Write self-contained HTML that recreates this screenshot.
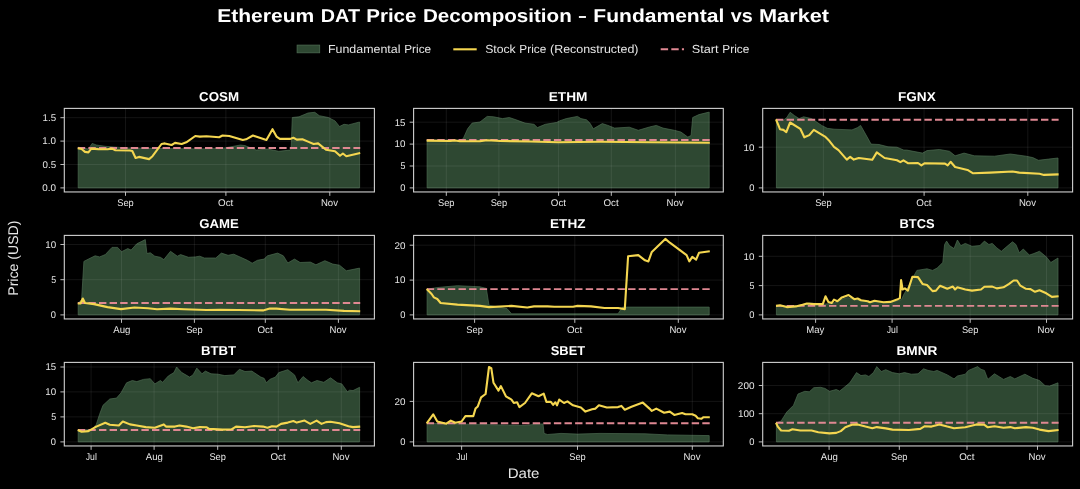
<!DOCTYPE html>
<html><head><meta charset="utf-8"><title>Ethereum DAT Price Decomposition</title>
<style>
html,body{margin:0;padding:0;background:#000;}
body{width:1080px;height:489px;overflow:hidden;}
svg{display:block;will-change:transform;filter:blur(0.4px);}
text{font-family:"Liberation Sans",sans-serif;fill:#e6e6e6;text-rendering:geometricPrecision;}
.b{font-weight:bold;}
text.w{fill:#fff;}
</style></head><body>
<svg width="1080" height="489" viewBox="0 0 1080 489">
<rect x="0" y="0" width="1080" height="489" fill="#000"/>

<text class="b w" x="217.18" y="21.70" font-size="18.67" textLength="97.10" lengthAdjust="spacingAndGlyphs">Ethereum</text>
<text class="b w" x="320.83" y="21.70" font-size="18.67" textLength="39.16" lengthAdjust="spacingAndGlyphs">DAT</text>
<text class="b w" x="366.24" y="21.70" font-size="18.67" textLength="50.13" lengthAdjust="spacingAndGlyphs">Price</text>
<text class="b w" x="422.92" y="21.70" font-size="18.67" textLength="148.88" lengthAdjust="spacingAndGlyphs">Decomposition</text>
<text class="b w" x="578.59" y="21.70" font-size="18.67" textLength="7.89" lengthAdjust="spacingAndGlyphs">–</text>
<text class="b w" x="593.34" y="21.70" font-size="18.67" textLength="130.96" lengthAdjust="spacingAndGlyphs">Fundamental</text>
<text class="b w" x="730.71" y="21.70" font-size="18.67" textLength="21.95" lengthAdjust="spacingAndGlyphs">vs</text>
<text class="b w" x="758.99" y="21.70" font-size="18.67" textLength="70.08" lengthAdjust="spacingAndGlyphs">Market</text>
<rect x="297.1" y="45.1" width="22.6" height="7.7" fill="#2e4832" stroke="#4c6a50" stroke-width="0.8"/>
<text x="327.98" y="53.20" font-size="11.67" textLength="72.43" lengthAdjust="spacingAndGlyphs">Fundamental</text>
<text x="404.23" y="53.20" font-size="11.67" textLength="26.93" lengthAdjust="spacingAndGlyphs">Price</text>
<line x1="453.3" y1="49.3" x2="476.7" y2="49.3" stroke="#f4d650" stroke-width="2.1"/>
<text x="485.15" y="53.20" font-size="11.67" textLength="30.53" lengthAdjust="spacingAndGlyphs">Stock</text>
<text x="519.37" y="53.20" font-size="11.67" textLength="26.93" lengthAdjust="spacingAndGlyphs">Price</text>
<text x="550.06" y="53.20" font-size="11.67" textLength="88.42" lengthAdjust="spacingAndGlyphs">(Reconstructed)</text>
<line x1="660.7" y1="49.3" x2="684" y2="49.3" stroke="#df8892" stroke-width="1.9" stroke-dasharray="7.4,3.2"/>
<text x="691.73" y="53.20" font-size="11.67" textLength="26.82" lengthAdjust="spacingAndGlyphs">Start</text>
<text x="722.36" y="53.20" font-size="11.67" textLength="26.93" lengthAdjust="spacingAndGlyphs">Price</text>
<text x="507.68" y="478.20" font-size="14.00" textLength="31.78" lengthAdjust="spacingAndGlyphs">Date</text>
<text transform="translate(17.60,295.76) rotate(-90)" font-size="14.00" textLength="75.24" lengthAdjust="spacingAndGlyphs">Price (USD)</text>
<g>
<polygon points="78.2,187.9 78.2,147.2 88.4,149.0 92.2,143.4 96.3,145.0 105.3,146.3 125.5,147.9 152.5,148.3 200.0,149.0 224.8,147.9 240.5,145.0 245.0,145.6 256.3,150.1 267.5,149.0 278.8,151.3 290.0,150.1 291.1,149.0 292.3,117.5 299.0,116.8 308.0,113.0 314.8,112.3 319.3,115.7 328.3,117.5 335.0,120.9 339.5,126.5 344.0,124.3 348.5,124.9 359.6,122.0 359.6,187.9" fill="#2e4832" stroke="#4c6a50" stroke-width="0.7" stroke-linejoin="round"/>
<line x1="64.3" y1="187.9" x2="374.4" y2="187.9" stroke="rgba(255,255,255,0.10)" stroke-width="0.8"/>
<line x1="64.3" y1="164.5" x2="374.4" y2="164.5" stroke="rgba(255,255,255,0.10)" stroke-width="0.8"/>
<line x1="64.3" y1="141.1" x2="374.4" y2="141.1" stroke="rgba(255,255,255,0.10)" stroke-width="0.8"/>
<line x1="64.3" y1="117.7" x2="374.4" y2="117.7" stroke="rgba(255,255,255,0.10)" stroke-width="0.8"/>
<line x1="125.5" y1="108.4" x2="125.5" y2="191.95" stroke="rgba(255,255,255,0.10)" stroke-width="0.8"/>
<line x1="225.9" y1="108.4" x2="225.9" y2="191.95" stroke="rgba(255,255,255,0.10)" stroke-width="0.8"/>
<line x1="329.8" y1="108.4" x2="329.8" y2="191.95" stroke="rgba(255,255,255,0.10)" stroke-width="0.8"/>
<line x1="77.8" y1="148.0" x2="360.2" y2="148.0" stroke="#df8892" stroke-width="1.9" stroke-dasharray="7.4,3.2"/>
<polyline points="77.8,148.3 81.6,149.0 85.0,151.9 88.4,152.4 91.3,148.6 98.5,149.1 107.5,149.2 112.0,148.6 115.4,150.2 130.0,150.5 132.3,151.0 135.6,158.0 139.0,156.9 149.1,159.1 152.5,156.2 161.5,144.0 164.9,143.4 171.6,145.0 175.0,142.9 181.7,144.0 186.3,142.3 195.3,136.0 199.8,136.6 206.5,136.2 219.1,137.3 222.5,135.5 229.3,136.0 242.8,140.0 246.1,139.3 252.9,135.5 266.4,140.0 272.5,129.2 276.5,136.6 279.9,138.9 290.0,138.9 293.4,137.8 296.8,139.6 302.4,139.3 308.0,141.6 313.6,144.0 318.1,143.4 326.0,149.7 335.0,151.3 340.0,155.8 342.9,153.5 346.3,156.2 360.2,153.0" fill="none" stroke="#f4d650" stroke-width="2.1" stroke-linejoin="round" stroke-linecap="butt"/>
<rect x="64.3" y="108.4" width="310.10" height="83.55" fill="none" stroke="#d0d0d0" stroke-width="1.1"/>
<line x1="60.4" y1="187.9" x2="64.3" y2="187.9" stroke="#d0d0d0" stroke-width="0.9"/>
<text x="42.35" y="191.20" font-size="9.78" textLength="13.72" lengthAdjust="spacingAndGlyphs">0.0</text>
<line x1="60.4" y1="164.5" x2="64.3" y2="164.5" stroke="#d0d0d0" stroke-width="0.9"/>
<text x="42.53" y="167.80" font-size="9.78" textLength="13.56" lengthAdjust="spacingAndGlyphs">0.5</text>
<line x1="60.4" y1="141.1" x2="64.3" y2="141.1" stroke="#d0d0d0" stroke-width="0.9"/>
<text x="42.38" y="144.40" font-size="9.78" textLength="13.69" lengthAdjust="spacingAndGlyphs">1.0</text>
<line x1="60.4" y1="117.7" x2="64.3" y2="117.7" stroke="#d0d0d0" stroke-width="0.9"/>
<text x="42.57" y="121.00" font-size="9.78" textLength="13.52" lengthAdjust="spacingAndGlyphs">1.5</text>
<line x1="125.5" y1="191.95" x2="125.5" y2="195.85" stroke="#d0d0d0" stroke-width="0.9"/>
<text x="117.24" y="206.35" font-size="9.78" textLength="16.50" lengthAdjust="spacingAndGlyphs">Sep</text>
<line x1="225.9" y1="191.95" x2="225.9" y2="195.85" stroke="#d0d0d0" stroke-width="0.9"/>
<text x="218.09" y="206.35" font-size="9.78" textLength="15.24" lengthAdjust="spacingAndGlyphs">Oct</text>
<line x1="329.8" y1="191.95" x2="329.8" y2="195.85" stroke="#d0d0d0" stroke-width="0.9"/>
<text x="320.90" y="206.35" font-size="9.78" textLength="17.05" lengthAdjust="spacingAndGlyphs">Nov</text>
<text class="b w" x="199.12" y="101.00" font-size="12.83" textLength="39.98" lengthAdjust="spacingAndGlyphs">COSM</text>
</g>
<g>
<polygon points="427.1,187.9 427.1,140.0 460.0,140.0 463.1,138.9 467.6,128.8 472.1,123.1 480.0,122.0 487.2,116.4 493.5,116.8 502.5,118.6 509.3,117.5 516.0,119.8 525.0,123.1 534.0,124.3 537.4,127.6 545.3,124.3 556.5,122.5 559.5,120.9 566.3,118.6 577.5,116.4 580.9,118.6 586.5,119.8 589.9,123.1 593.3,128.8 602.3,123.6 607.9,125.4 614.6,128.1 629.3,127.2 638.3,130.3 649.5,127.0 656.3,125.4 663.0,128.1 674.3,130.3 681.0,132.1 687.8,137.1 691.1,135.5 692.7,117.5 699.0,114.6 709.2,112.1 709.2,187.9" fill="#2e4832" stroke="#4c6a50" stroke-width="0.7" stroke-linejoin="round"/>
<line x1="413.6" y1="187.9" x2="723.3" y2="187.9" stroke="rgba(255,255,255,0.10)" stroke-width="0.8"/>
<line x1="413.6" y1="166" x2="723.3" y2="166" stroke="rgba(255,255,255,0.10)" stroke-width="0.8"/>
<line x1="413.6" y1="144.1" x2="723.3" y2="144.1" stroke="rgba(255,255,255,0.10)" stroke-width="0.8"/>
<line x1="413.6" y1="122.2" x2="723.3" y2="122.2" stroke="rgba(255,255,255,0.10)" stroke-width="0.8"/>
<line x1="446.3" y1="108.4" x2="446.3" y2="191.95" stroke="rgba(255,255,255,0.10)" stroke-width="0.8"/>
<line x1="498.9" y1="108.4" x2="498.9" y2="191.95" stroke="rgba(255,255,255,0.10)" stroke-width="0.8"/>
<line x1="558.6" y1="108.4" x2="558.6" y2="191.95" stroke="rgba(255,255,255,0.10)" stroke-width="0.8"/>
<line x1="611.3" y1="108.4" x2="611.3" y2="191.95" stroke="rgba(255,255,255,0.10)" stroke-width="0.8"/>
<line x1="675.4" y1="108.4" x2="675.4" y2="191.95" stroke="rgba(255,255,255,0.10)" stroke-width="0.8"/>
<line x1="426.7" y1="140.0" x2="709.8" y2="140.0" stroke="#df8892" stroke-width="1.9" stroke-dasharray="7.4,3.2"/>
<polyline points="426.7,140.6 450.0,141.0 455.0,140.5 460.0,141.3 480.0,141.2 487.0,140.3 500.0,141.0 530.0,141.5 558.0,142.2 600.0,141.8 650.0,142.2 709.8,142.7" fill="none" stroke="#f4d650" stroke-width="2.1" stroke-linejoin="round" stroke-linecap="butt"/>
<rect x="413.6" y="108.4" width="309.70" height="83.55" fill="none" stroke="#d0d0d0" stroke-width="1.1"/>
<line x1="409.70000000000005" y1="187.9" x2="413.6" y2="187.9" stroke="#d0d0d0" stroke-width="0.9"/>
<text x="400.16" y="191.20" font-size="9.78" textLength="5.20" lengthAdjust="spacingAndGlyphs">0</text>
<line x1="409.70000000000005" y1="166" x2="413.6" y2="166" stroke="#d0d0d0" stroke-width="0.9"/>
<text x="400.45" y="169.30" font-size="9.78" textLength="4.92" lengthAdjust="spacingAndGlyphs">5</text>
<line x1="409.70000000000005" y1="144.1" x2="413.6" y2="144.1" stroke="#d0d0d0" stroke-width="0.9"/>
<text x="394.51" y="147.40" font-size="9.78" textLength="10.88" lengthAdjust="spacingAndGlyphs">10</text>
<line x1="409.70000000000005" y1="122.2" x2="413.6" y2="122.2" stroke="#d0d0d0" stroke-width="0.9"/>
<text x="394.70" y="125.50" font-size="9.78" textLength="10.71" lengthAdjust="spacingAndGlyphs">15</text>
<line x1="446.3" y1="191.95" x2="446.3" y2="195.85" stroke="#d0d0d0" stroke-width="0.9"/>
<text x="438.04" y="206.35" font-size="9.78" textLength="16.50" lengthAdjust="spacingAndGlyphs">Sep</text>
<line x1="498.9" y1="191.95" x2="498.9" y2="195.85" stroke="#d0d0d0" stroke-width="0.9"/>
<text x="490.64" y="206.35" font-size="9.78" textLength="16.50" lengthAdjust="spacingAndGlyphs">Sep</text>
<line x1="558.6" y1="191.95" x2="558.6" y2="195.85" stroke="#d0d0d0" stroke-width="0.9"/>
<text x="550.79" y="206.35" font-size="9.78" textLength="15.24" lengthAdjust="spacingAndGlyphs">Oct</text>
<line x1="611.3" y1="191.95" x2="611.3" y2="195.85" stroke="#d0d0d0" stroke-width="0.9"/>
<text x="603.49" y="206.35" font-size="9.78" textLength="15.24" lengthAdjust="spacingAndGlyphs">Oct</text>
<line x1="675.4" y1="191.95" x2="675.4" y2="195.85" stroke="#d0d0d0" stroke-width="0.9"/>
<text x="666.50" y="206.35" font-size="9.78" textLength="17.05" lengthAdjust="spacingAndGlyphs">Nov</text>
<text class="b w" x="548.71" y="101.00" font-size="12.83" textLength="38.66" lengthAdjust="spacingAndGlyphs">ETHM</text>
</g>
<g>
<polygon points="776.4,187.9 776.4,119.3 783.4,120.2 786.8,117.5 790.1,112.3 794.6,115.7 799.1,118.6 803.6,116.8 811.5,118.6 816.0,121.6 821.6,125.4 827.3,128.3 834.0,129.2 852.0,129.9 857.6,127.6 860.6,125.4 864.4,132.1 871.1,144.1 879.0,144.5 888.0,146.8 897.0,147.2 903.8,150.1 906.8,150.1 922.5,153.1 927.0,150.6 939.4,149.5 949.5,151.3 955.1,155.8 964.1,153.1 974.3,155.8 994.5,156.2 1010.3,154.0 1026.0,156.2 1032.8,157.6 1038.4,160.3 1048.5,159.1 1058.0,158.0 1058.0,187.9" fill="#2e4832" stroke="#4c6a50" stroke-width="0.7" stroke-linejoin="round"/>
<line x1="762.7" y1="187.9" x2="1072.6" y2="187.9" stroke="rgba(255,255,255,0.10)" stroke-width="0.8"/>
<line x1="762.7" y1="147.2" x2="1072.6" y2="147.2" stroke="rgba(255,255,255,0.10)" stroke-width="0.8"/>
<line x1="823.4" y1="108.4" x2="823.4" y2="191.95" stroke="rgba(255,255,255,0.10)" stroke-width="0.8"/>
<line x1="924.1" y1="108.4" x2="924.1" y2="191.95" stroke="rgba(255,255,255,0.10)" stroke-width="0.8"/>
<line x1="1027.8" y1="108.4" x2="1027.8" y2="191.95" stroke="rgba(255,255,255,0.10)" stroke-width="0.8"/>
<line x1="776" y1="119.75" x2="1058.6" y2="119.75" stroke="#df8892" stroke-width="1.9" stroke-dasharray="7.4,3.2"/>
<polyline points="776.0,119.3 780.0,129.2 783.4,129.9 786.3,132.1 790.1,122.5 800.3,128.8 804.3,137.3 809.3,135.1 813.8,129.9 825.0,136.6 829.5,141.1 834.0,146.8 838.5,150.1 846.8,159.6 850.2,156.9 853.8,159.6 858.8,158.0 872.3,159.8 876.8,152.4 884.6,158.0 897.0,160.3 900.4,162.1 903.4,160.3 907.9,163.2 918.0,163.0 921.4,165.4 924.8,163.2 945.0,163.6 947.7,165.4 950.6,161.8 955.1,167.0 967.5,169.9 973.1,173.3 990.0,172.6 1012.5,171.5 1019.3,172.6 1039.5,173.8 1044.0,174.9 1058.6,174.4" fill="none" stroke="#f4d650" stroke-width="2.1" stroke-linejoin="round" stroke-linecap="butt"/>
<rect x="762.7" y="108.4" width="309.90" height="83.55" fill="none" stroke="#d0d0d0" stroke-width="1.1"/>
<line x1="758.8000000000001" y1="187.9" x2="762.7" y2="187.9" stroke="#d0d0d0" stroke-width="0.9"/>
<text x="749.26" y="191.20" font-size="9.78" textLength="5.20" lengthAdjust="spacingAndGlyphs">0</text>
<line x1="758.8000000000001" y1="147.2" x2="762.7" y2="147.2" stroke="#d0d0d0" stroke-width="0.9"/>
<text x="743.61" y="150.50" font-size="9.78" textLength="10.88" lengthAdjust="spacingAndGlyphs">10</text>
<line x1="823.4" y1="191.95" x2="823.4" y2="195.85" stroke="#d0d0d0" stroke-width="0.9"/>
<text x="815.14" y="206.35" font-size="9.78" textLength="16.50" lengthAdjust="spacingAndGlyphs">Sep</text>
<line x1="924.1" y1="191.95" x2="924.1" y2="195.85" stroke="#d0d0d0" stroke-width="0.9"/>
<text x="916.29" y="206.35" font-size="9.78" textLength="15.24" lengthAdjust="spacingAndGlyphs">Oct</text>
<line x1="1027.8" y1="191.95" x2="1027.8" y2="195.85" stroke="#d0d0d0" stroke-width="0.9"/>
<text x="1018.90" y="206.35" font-size="9.78" textLength="17.05" lengthAdjust="spacingAndGlyphs">Nov</text>
<text class="b w" x="898.00" y="101.00" font-size="12.83" textLength="37.72" lengthAdjust="spacingAndGlyphs">FGNX</text>
</g>
<g>
<polygon points="78.2,314.9 78.2,303.0 81.6,299.6 83.9,261.4 88.4,259.1 95.1,255.8 99.6,256.9 105.3,254.6 112.0,247.4 117.6,247.4 121.5,251.7 127.8,248.6 131.1,250.1 136.8,243.8 145.3,239.6 146.9,253.5 150.3,252.8 154.8,256.2 160.4,257.3 163.8,259.6 170.5,251.3 177.3,256.2 180.6,254.6 188.5,257.3 195.3,256.9 199.8,256.2 204.3,258.0 215.8,258.0 221.4,253.1 228.1,255.3 233.8,254.2 247.3,260.3 252.2,263.2 257.4,260.3 264.1,259.1 267.5,255.8 277.6,253.1 283.3,255.8 287.8,263.0 294.5,259.1 300.1,262.5 310.3,262.1 315.9,264.8 324.9,260.7 332.8,264.1 339.5,265.2 346.3,270.8 359.6,268.1 359.6,314.9" fill="#2e4832" stroke="#4c6a50" stroke-width="0.7" stroke-linejoin="round"/>
<line x1="64.3" y1="314.9" x2="374.4" y2="314.9" stroke="rgba(255,255,255,0.10)" stroke-width="0.8"/>
<line x1="64.3" y1="279.7" x2="374.4" y2="279.7" stroke="rgba(255,255,255,0.10)" stroke-width="0.8"/>
<line x1="64.3" y1="244.5" x2="374.4" y2="244.5" stroke="rgba(255,255,255,0.10)" stroke-width="0.8"/>
<line x1="121.5" y1="235.4" x2="121.5" y2="318.95" stroke="rgba(255,255,255,0.10)" stroke-width="0.8"/>
<line x1="194.4" y1="235.4" x2="194.4" y2="318.95" stroke="rgba(255,255,255,0.10)" stroke-width="0.8"/>
<line x1="265.3" y1="235.4" x2="265.3" y2="318.95" stroke="rgba(255,255,255,0.10)" stroke-width="0.8"/>
<line x1="338.4" y1="235.4" x2="338.4" y2="318.95" stroke="rgba(255,255,255,0.10)" stroke-width="0.8"/>
<line x1="77.8" y1="303.0" x2="360.2" y2="303.0" stroke="#df8892" stroke-width="1.9" stroke-dasharray="7.4,3.2"/>
<polyline points="77.8,303.5 80.5,303.5 82.8,298.5 85.0,303.0 94.0,304.1 107.5,307.1 121.0,309.1 134.5,307.5 148.0,308.2 157.0,309.3 170.5,308.6 184.0,309.3 206.5,310.0 220.0,309.8 263.0,310.4 269.8,308.6 276.5,308.6 290.0,309.8 326.0,309.8 344.0,310.9 360.2,311.3" fill="none" stroke="#f4d650" stroke-width="2.1" stroke-linejoin="round" stroke-linecap="butt"/>
<rect x="64.3" y="235.4" width="310.10" height="83.55" fill="none" stroke="#d0d0d0" stroke-width="1.1"/>
<line x1="60.4" y1="314.9" x2="64.3" y2="314.9" stroke="#d0d0d0" stroke-width="0.9"/>
<text x="50.86" y="318.20" font-size="9.78" textLength="5.20" lengthAdjust="spacingAndGlyphs">0</text>
<line x1="60.4" y1="279.7" x2="64.3" y2="279.7" stroke="#d0d0d0" stroke-width="0.9"/>
<text x="51.15" y="283.00" font-size="9.78" textLength="4.92" lengthAdjust="spacingAndGlyphs">5</text>
<line x1="60.4" y1="244.5" x2="64.3" y2="244.5" stroke="#d0d0d0" stroke-width="0.9"/>
<text x="45.21" y="247.80" font-size="9.78" textLength="10.88" lengthAdjust="spacingAndGlyphs">10</text>
<line x1="121.5" y1="318.95" x2="121.5" y2="322.84999999999997" stroke="#d0d0d0" stroke-width="0.9"/>
<text x="113.23" y="333.35" font-size="9.78" textLength="17.13" lengthAdjust="spacingAndGlyphs">Aug</text>
<line x1="194.4" y1="318.95" x2="194.4" y2="322.84999999999997" stroke="#d0d0d0" stroke-width="0.9"/>
<text x="186.14" y="333.35" font-size="9.78" textLength="16.50" lengthAdjust="spacingAndGlyphs">Sep</text>
<line x1="265.3" y1="318.95" x2="265.3" y2="322.84999999999997" stroke="#d0d0d0" stroke-width="0.9"/>
<text x="257.49" y="333.35" font-size="9.78" textLength="15.24" lengthAdjust="spacingAndGlyphs">Oct</text>
<line x1="338.4" y1="318.95" x2="338.4" y2="322.84999999999997" stroke="#d0d0d0" stroke-width="0.9"/>
<text x="329.50" y="333.35" font-size="9.78" textLength="17.05" lengthAdjust="spacingAndGlyphs">Nov</text>
<text class="b w" x="199.18" y="228.00" font-size="12.83" textLength="39.55" lengthAdjust="spacingAndGlyphs">GAME</text>
</g>
<g>
<polygon points="427.1,314.9 427.1,289.1 439.5,287.3 457.5,285.7 480.0,286.8 486.3,288.4 489.0,305.3 507.0,308.6 511.5,313.8 618.0,313.8 622.5,307.1 709.2,307.1 709.2,314.9" fill="#2e4832" stroke="#4c6a50" stroke-width="0.7" stroke-linejoin="round"/>
<line x1="413.6" y1="314.9" x2="723.3" y2="314.9" stroke="rgba(255,255,255,0.10)" stroke-width="0.8"/>
<line x1="413.6" y1="280.1" x2="723.3" y2="280.1" stroke="rgba(255,255,255,0.10)" stroke-width="0.8"/>
<line x1="413.6" y1="245.2" x2="723.3" y2="245.2" stroke="rgba(255,255,255,0.10)" stroke-width="0.8"/>
<line x1="474.6" y1="235.4" x2="474.6" y2="318.95" stroke="rgba(255,255,255,0.10)" stroke-width="0.8"/>
<line x1="574.8" y1="235.4" x2="574.8" y2="318.95" stroke="rgba(255,255,255,0.10)" stroke-width="0.8"/>
<line x1="678.3" y1="235.4" x2="678.3" y2="318.95" stroke="rgba(255,255,255,0.10)" stroke-width="0.8"/>
<line x1="426.7" y1="289.1" x2="709.8" y2="289.1" stroke="#df8892" stroke-width="1.9" stroke-dasharray="7.4,3.2"/>
<polyline points="426.7,289.1 431.6,294.0 433.9,297.4 437.3,299.0 440.6,303.0 457.5,304.6 480.0,305.9 489.0,307.1 511.5,305.9 527.3,307.5 534.0,306.4 547.5,306.4 554.3,306.8 573.0,306.8 577.5,305.9 591.0,306.4 604.5,308.0 618.0,308.0 624.8,309.1 628.1,256.2 638.3,255.1 645.0,260.3 648.4,261.4 651.8,251.9 665.3,238.9 669.8,242.7 686.6,255.1 689.3,261.4 692.3,256.9 696.1,259.6 699.0,252.8 709.8,251.3" fill="none" stroke="#f4d650" stroke-width="2.1" stroke-linejoin="round" stroke-linecap="butt"/>
<rect x="413.6" y="235.4" width="309.70" height="83.55" fill="none" stroke="#d0d0d0" stroke-width="1.1"/>
<line x1="409.70000000000005" y1="314.9" x2="413.6" y2="314.9" stroke="#d0d0d0" stroke-width="0.9"/>
<text x="400.16" y="318.20" font-size="9.78" textLength="5.20" lengthAdjust="spacingAndGlyphs">0</text>
<line x1="409.70000000000005" y1="280.1" x2="413.6" y2="280.1" stroke="#d0d0d0" stroke-width="0.9"/>
<text x="394.51" y="283.40" font-size="9.78" textLength="10.88" lengthAdjust="spacingAndGlyphs">10</text>
<line x1="409.70000000000005" y1="245.2" x2="413.6" y2="245.2" stroke="#d0d0d0" stroke-width="0.9"/>
<text x="394.42" y="248.50" font-size="9.78" textLength="10.98" lengthAdjust="spacingAndGlyphs">20</text>
<line x1="474.6" y1="318.95" x2="474.6" y2="322.84999999999997" stroke="#d0d0d0" stroke-width="0.9"/>
<text x="466.34" y="333.35" font-size="9.78" textLength="16.50" lengthAdjust="spacingAndGlyphs">Sep</text>
<line x1="574.8" y1="318.95" x2="574.8" y2="322.84999999999997" stroke="#d0d0d0" stroke-width="0.9"/>
<text x="566.99" y="333.35" font-size="9.78" textLength="15.24" lengthAdjust="spacingAndGlyphs">Oct</text>
<line x1="678.3" y1="318.95" x2="678.3" y2="322.84999999999997" stroke="#d0d0d0" stroke-width="0.9"/>
<text x="669.40" y="333.35" font-size="9.78" textLength="17.05" lengthAdjust="spacingAndGlyphs">Nov</text>
<text class="b w" x="550.07" y="228.00" font-size="12.83" textLength="35.43" lengthAdjust="spacingAndGlyphs">ETHZ</text>
</g>
<g>
<polygon points="776.4,314.9 776.4,305.9 791.3,306.4 802.5,304.8 809.3,303.0 825.0,304.1 834.0,303.0 840.8,299.6 847.5,297.4 854.3,299.6 861.0,300.8 870.0,302.3 879.0,301.9 890.3,302.6 897.0,300.8 901.5,299.6 904.0,294.0 906.8,289.5 911.3,280.5 916.9,270.4 927.0,268.8 932.6,270.4 937.1,268.1 942.8,262.5 944.6,244.5 946.6,241.1 949.5,245.6 954.0,248.6 957.4,240.0 960.8,245.6 965.3,243.4 972.0,246.3 979.9,245.6 984.4,241.1 988.9,244.5 992.3,243.4 996.8,247.9 1001.3,251.3 1008.0,245.6 1012.5,241.8 1015.9,244.5 1019.3,252.8 1023.3,249.0 1029.4,255.1 1033.9,253.5 1039.5,251.3 1046.3,256.9 1050.8,262.5 1058.0,258.0 1058.0,314.9" fill="#2e4832" stroke="#4c6a50" stroke-width="0.7" stroke-linejoin="round"/>
<line x1="762.7" y1="314.9" x2="1072.6" y2="314.9" stroke="rgba(255,255,255,0.10)" stroke-width="0.8"/>
<line x1="762.7" y1="285.6" x2="1072.6" y2="285.6" stroke="rgba(255,255,255,0.10)" stroke-width="0.8"/>
<line x1="762.7" y1="256.3" x2="1072.6" y2="256.3" stroke="rgba(255,255,255,0.10)" stroke-width="0.8"/>
<line x1="815.6" y1="235.4" x2="815.6" y2="318.95" stroke="rgba(255,255,255,0.10)" stroke-width="0.8"/>
<line x1="892.1" y1="235.4" x2="892.1" y2="318.95" stroke="rgba(255,255,255,0.10)" stroke-width="0.8"/>
<line x1="970.2" y1="235.4" x2="970.2" y2="318.95" stroke="rgba(255,255,255,0.10)" stroke-width="0.8"/>
<line x1="1046.5" y1="235.4" x2="1046.5" y2="318.95" stroke="rgba(255,255,255,0.10)" stroke-width="0.8"/>
<line x1="776" y1="305.9" x2="1058.6" y2="305.9" stroke="#df8892" stroke-width="1.9" stroke-dasharray="7.4,3.2"/>
<polyline points="776.0,305.9 780.0,305.3 786.8,307.1 795.8,306.4 802.5,304.8 807.0,303.5 813.8,304.1 822.8,304.1 825.5,296.3 828.4,301.9 831.8,303.0 834.0,299.6 837.4,301.2 841.9,297.4 848.6,295.1 854.3,299.2 857.6,298.5 861.0,300.3 867.8,301.2 870.0,302.3 874.5,300.8 883.5,302.3 890.3,301.9 897.0,299.6 899.9,298.1 901.1,280.1 902.6,289.5 904.9,288.4 907.9,290.6 912.4,276.7 918.0,277.1 922.5,283.9 927.0,285.0 932.6,291.1 936.0,290.6 940.1,285.7 947.3,288.8 952.9,286.6 955.1,289.5 957.4,287.3 965.3,289.5 972.0,290.6 981.0,289.5 984.4,286.8 992.3,286.6 996.8,288.4 1003.5,287.3 1009.1,283.9 1013.6,280.5 1017.0,280.5 1020.4,285.7 1026.0,288.8 1030.5,289.1 1035.0,291.8 1039.5,290.2 1046.3,293.3 1051.9,296.9 1058.6,296.3" fill="none" stroke="#f4d650" stroke-width="2.1" stroke-linejoin="round" stroke-linecap="butt"/>
<rect x="762.7" y="235.4" width="309.90" height="83.55" fill="none" stroke="#d0d0d0" stroke-width="1.1"/>
<line x1="758.8000000000001" y1="314.9" x2="762.7" y2="314.9" stroke="#d0d0d0" stroke-width="0.9"/>
<text x="749.26" y="318.20" font-size="9.78" textLength="5.20" lengthAdjust="spacingAndGlyphs">0</text>
<line x1="758.8000000000001" y1="285.6" x2="762.7" y2="285.6" stroke="#d0d0d0" stroke-width="0.9"/>
<text x="749.55" y="288.90" font-size="9.78" textLength="4.92" lengthAdjust="spacingAndGlyphs">5</text>
<line x1="758.8000000000001" y1="256.3" x2="762.7" y2="256.3" stroke="#d0d0d0" stroke-width="0.9"/>
<text x="743.61" y="259.60" font-size="9.78" textLength="10.88" lengthAdjust="spacingAndGlyphs">10</text>
<line x1="815.6" y1="318.95" x2="815.6" y2="322.84999999999997" stroke="#d0d0d0" stroke-width="0.9"/>
<text x="806.19" y="333.35" font-size="9.78" textLength="18.05" lengthAdjust="spacingAndGlyphs">May</text>
<line x1="892.1" y1="318.95" x2="892.1" y2="322.84999999999997" stroke="#d0d0d0" stroke-width="0.9"/>
<text x="886.79" y="333.35" font-size="9.78" textLength="11.08" lengthAdjust="spacingAndGlyphs">Jul</text>
<line x1="970.2" y1="318.95" x2="970.2" y2="322.84999999999997" stroke="#d0d0d0" stroke-width="0.9"/>
<text x="961.94" y="333.35" font-size="9.78" textLength="16.50" lengthAdjust="spacingAndGlyphs">Sep</text>
<line x1="1046.5" y1="318.95" x2="1046.5" y2="322.84999999999997" stroke="#d0d0d0" stroke-width="0.9"/>
<text x="1037.60" y="333.35" font-size="9.78" textLength="17.05" lengthAdjust="spacingAndGlyphs">Nov</text>
<text class="b w" x="899.55" y="228.00" font-size="12.83" textLength="35.05" lengthAdjust="spacingAndGlyphs">BTCS</text>
</g>
<g>
<polygon points="78.2,441.9 78.2,430.0 91.8,429.6 96.3,424.4 99.6,414.3 103.0,405.3 109.8,399.0 116.5,398.1 121.0,392.9 126.6,382.8 132.3,380.5 136.8,381.6 143.5,379.4 150.3,378.7 154.8,383.9 160.4,380.5 162.6,382.3 168.3,376.0 173.9,372.6 176.6,367.0 181.8,372.6 189.6,377.1 193.0,374.9 196.8,368.1 202.0,373.8 205.4,371.1 211.0,373.8 218.0,374.2 224.8,375.6 233.8,374.9 239.4,369.3 245.0,371.5 251.8,371.1 260.8,377.1 264.1,378.3 266.4,382.8 269.8,379.4 275.4,377.1 278.8,372.6 287.8,369.7 294.5,374.9 297.9,382.8 303.1,376.5 308.0,380.5 311.4,382.8 317.0,380.5 323.8,382.3 330.5,377.8 337.3,382.8 341.8,383.9 347.4,391.8 349.6,390.2 353.0,390.6 359.6,387.3 359.6,441.9" fill="#2e4832" stroke="#4c6a50" stroke-width="0.7" stroke-linejoin="round"/>
<line x1="64.3" y1="441.9" x2="374.4" y2="441.9" stroke="rgba(255,255,255,0.10)" stroke-width="0.8"/>
<line x1="64.3" y1="416.9" x2="374.4" y2="416.9" stroke="rgba(255,255,255,0.10)" stroke-width="0.8"/>
<line x1="64.3" y1="391.9" x2="374.4" y2="391.9" stroke="rgba(255,255,255,0.10)" stroke-width="0.8"/>
<line x1="64.3" y1="367" x2="374.4" y2="367" stroke="rgba(255,255,255,0.10)" stroke-width="0.8"/>
<line x1="91.1" y1="362.4" x2="91.1" y2="445.95" stroke="rgba(255,255,255,0.10)" stroke-width="0.8"/>
<line x1="154.1" y1="362.4" x2="154.1" y2="445.95" stroke="rgba(255,255,255,0.10)" stroke-width="0.8"/>
<line x1="217.7" y1="362.4" x2="217.7" y2="445.95" stroke="rgba(255,255,255,0.10)" stroke-width="0.8"/>
<line x1="278.3" y1="362.4" x2="278.3" y2="445.95" stroke="rgba(255,255,255,0.10)" stroke-width="0.8"/>
<line x1="341.3" y1="362.4" x2="341.3" y2="445.95" stroke="rgba(255,255,255,0.10)" stroke-width="0.8"/>
<line x1="77.8" y1="430.0" x2="360.2" y2="430.0" stroke="#df8892" stroke-width="1.9" stroke-dasharray="7.4,3.2"/>
<polyline points="77.8,430.0 81.6,431.8 88.4,431.1 96.3,426.6 105.3,422.8 109.8,424.8 118.8,425.5 122.8,421.5 130.0,424.4 136.8,425.5 145.8,427.1 154.8,427.8 163.8,424.4 166.0,426.6 175.0,426.6 179.5,425.5 186.3,426.6 193.0,428.2 199.8,427.1 206.8,427.3 209.0,428.9 222.5,429.6 231.5,429.3 236.0,426.6 245.0,427.3 254.0,426.0 263.0,426.6 267.5,427.8 272.0,426.2 276.5,426.6 281.0,423.9 287.8,422.6 293.4,421.0 296.8,422.6 304.6,420.6 310.3,423.9 316.6,420.6 321.5,423.9 326.0,422.1 330.5,421.7 339.5,423.3 348.5,426.2 353.0,427.1 360.2,426.6" fill="none" stroke="#f4d650" stroke-width="2.1" stroke-linejoin="round" stroke-linecap="butt"/>
<rect x="64.3" y="362.4" width="310.10" height="83.55" fill="none" stroke="#d0d0d0" stroke-width="1.1"/>
<line x1="60.4" y1="441.9" x2="64.3" y2="441.9" stroke="#d0d0d0" stroke-width="0.9"/>
<text x="50.86" y="445.20" font-size="9.78" textLength="5.20" lengthAdjust="spacingAndGlyphs">0</text>
<line x1="60.4" y1="416.9" x2="64.3" y2="416.9" stroke="#d0d0d0" stroke-width="0.9"/>
<text x="51.15" y="420.20" font-size="9.78" textLength="4.92" lengthAdjust="spacingAndGlyphs">5</text>
<line x1="60.4" y1="391.9" x2="64.3" y2="391.9" stroke="#d0d0d0" stroke-width="0.9"/>
<text x="45.21" y="395.20" font-size="9.78" textLength="10.88" lengthAdjust="spacingAndGlyphs">10</text>
<line x1="60.4" y1="367" x2="64.3" y2="367" stroke="#d0d0d0" stroke-width="0.9"/>
<text x="45.40" y="370.30" font-size="9.78" textLength="10.71" lengthAdjust="spacingAndGlyphs">15</text>
<line x1="91.1" y1="445.95" x2="91.1" y2="449.84999999999997" stroke="#d0d0d0" stroke-width="0.9"/>
<text x="85.79" y="460.35" font-size="9.78" textLength="11.08" lengthAdjust="spacingAndGlyphs">Jul</text>
<line x1="154.1" y1="445.95" x2="154.1" y2="449.84999999999997" stroke="#d0d0d0" stroke-width="0.9"/>
<text x="145.83" y="460.35" font-size="9.78" textLength="17.13" lengthAdjust="spacingAndGlyphs">Aug</text>
<line x1="217.7" y1="445.95" x2="217.7" y2="449.84999999999997" stroke="#d0d0d0" stroke-width="0.9"/>
<text x="209.44" y="460.35" font-size="9.78" textLength="16.50" lengthAdjust="spacingAndGlyphs">Sep</text>
<line x1="278.3" y1="445.95" x2="278.3" y2="449.84999999999997" stroke="#d0d0d0" stroke-width="0.9"/>
<text x="270.49" y="460.35" font-size="9.78" textLength="15.24" lengthAdjust="spacingAndGlyphs">Oct</text>
<line x1="341.3" y1="445.95" x2="341.3" y2="449.84999999999997" stroke="#d0d0d0" stroke-width="0.9"/>
<text x="332.40" y="460.35" font-size="9.78" textLength="17.05" lengthAdjust="spacingAndGlyphs">Nov</text>
<text class="b w" x="200.98" y="355.00" font-size="12.83" textLength="35.19" lengthAdjust="spacingAndGlyphs">BTBT</text>
</g>
<g>
<polygon points="427.1,441.9 427.1,423.3 480.0,424.4 525.0,425.5 534.0,424.4 543.0,423.9 544.1,433.4 547.5,434.5 561.0,433.4 577.5,434.1 600.0,433.4 645.0,433.8 667.5,434.9 709.2,435.6 709.2,441.9" fill="#2e4832" stroke="#4c6a50" stroke-width="0.7" stroke-linejoin="round"/>
<line x1="413.6" y1="441.9" x2="723.3" y2="441.9" stroke="rgba(255,255,255,0.10)" stroke-width="0.8"/>
<line x1="413.6" y1="401.4" x2="723.3" y2="401.4" stroke="rgba(255,255,255,0.10)" stroke-width="0.8"/>
<line x1="461.6" y1="362.4" x2="461.6" y2="445.95" stroke="rgba(255,255,255,0.10)" stroke-width="0.8"/>
<line x1="577.5" y1="362.4" x2="577.5" y2="445.95" stroke="rgba(255,255,255,0.10)" stroke-width="0.8"/>
<line x1="692.3" y1="362.4" x2="692.3" y2="445.95" stroke="rgba(255,255,255,0.10)" stroke-width="0.8"/>
<line x1="426.7" y1="423.25" x2="709.8" y2="423.25" stroke="#df8892" stroke-width="1.9" stroke-dasharray="7.4,3.2"/>
<polyline points="426.7,423.3 433.2,414.3 437.3,421.5 446.3,423.7 450.8,420.6 455.3,422.8 461.6,421.5 465.4,416.1 473.3,416.1 475.5,408.6 477.8,406.4 481.1,397.4 485.6,394.0 489.0,367.0 491.3,368.1 493.5,382.8 498.5,390.6 500.9,386.1 505.9,396.3 511.5,399.6 513.8,403.0 517.1,402.3 519.4,407.1 525.0,403.0 531.8,393.3 538.5,396.3 543.7,393.6 546.4,401.9 550.9,401.9 553.1,404.8 555.4,402.3 557.0,405.3 559.2,399.6 564.0,403.0 567.4,401.4 573.0,405.3 580.9,407.5 585.4,411.6 592.1,409.3 595.5,408.6 598.9,405.3 606.8,407.5 618.0,407.1 621.4,405.9 624.8,409.8 631.5,406.8 642.8,402.6 649.5,408.6 651.8,410.9 656.3,408.6 664.1,412.7 669.8,411.6 674.3,414.9 682.1,413.1 685.5,414.3 692.3,414.3 695.6,415.8 697.9,418.3 701.3,418.8 703.5,417.2 709.8,417.2" fill="none" stroke="#f4d650" stroke-width="2.1" stroke-linejoin="round" stroke-linecap="butt"/>
<rect x="413.6" y="362.4" width="309.70" height="83.55" fill="none" stroke="#d0d0d0" stroke-width="1.1"/>
<line x1="409.70000000000005" y1="441.9" x2="413.6" y2="441.9" stroke="#d0d0d0" stroke-width="0.9"/>
<text x="400.16" y="445.20" font-size="9.78" textLength="5.20" lengthAdjust="spacingAndGlyphs">0</text>
<line x1="409.70000000000005" y1="401.4" x2="413.6" y2="401.4" stroke="#d0d0d0" stroke-width="0.9"/>
<text x="394.42" y="404.70" font-size="9.78" textLength="10.98" lengthAdjust="spacingAndGlyphs">20</text>
<line x1="461.6" y1="445.95" x2="461.6" y2="449.84999999999997" stroke="#d0d0d0" stroke-width="0.9"/>
<text x="456.29" y="460.35" font-size="9.78" textLength="11.08" lengthAdjust="spacingAndGlyphs">Jul</text>
<line x1="577.5" y1="445.95" x2="577.5" y2="449.84999999999997" stroke="#d0d0d0" stroke-width="0.9"/>
<text x="569.24" y="460.35" font-size="9.78" textLength="16.50" lengthAdjust="spacingAndGlyphs">Sep</text>
<line x1="692.3" y1="445.95" x2="692.3" y2="449.84999999999997" stroke="#d0d0d0" stroke-width="0.9"/>
<text x="683.40" y="460.35" font-size="9.78" textLength="17.05" lengthAdjust="spacingAndGlyphs">Nov</text>
<text class="b w" x="550.76" y="355.00" font-size="12.83" textLength="34.39" lengthAdjust="spacingAndGlyphs">SBET</text>
</g>
<g>
<polygon points="776.4,441.9 776.4,422.8 781.1,421.0 786.8,412.0 793.5,405.3 798.0,394.0 804.8,391.3 809.3,391.8 813.8,387.7 820.5,387.3 825.0,388.4 829.5,391.3 836.3,389.5 839.6,391.1 843.0,388.4 849.8,382.8 856.5,372.6 861.0,375.6 865.5,374.9 868.9,376.5 873.4,372.6 876.8,366.6 881.3,371.5 885.8,369.7 892.5,372.6 899.3,373.8 904.5,372.6 911.3,374.2 918.0,373.8 923.6,368.8 928.1,370.4 933.8,371.5 937.1,370.4 947.3,374.9 954.0,378.9 957.4,376.0 965.3,374.2 968.6,370.4 977.6,366.6 981.0,369.3 984.4,370.4 987.8,379.4 994.5,373.8 1003.5,379.4 1010.3,376.5 1014.8,378.9 1024.9,374.2 1032.8,378.3 1039.5,380.5 1045.1,385.7 1049.6,386.1 1058.0,382.8 1058.0,441.9" fill="#2e4832" stroke="#4c6a50" stroke-width="0.7" stroke-linejoin="round"/>
<line x1="762.7" y1="441.9" x2="1072.6" y2="441.9" stroke="rgba(255,255,255,0.10)" stroke-width="0.8"/>
<line x1="762.7" y1="413.7" x2="1072.6" y2="413.7" stroke="rgba(255,255,255,0.10)" stroke-width="0.8"/>
<line x1="762.7" y1="385.5" x2="1072.6" y2="385.5" stroke="rgba(255,255,255,0.10)" stroke-width="0.8"/>
<line x1="829.1" y1="362.4" x2="829.1" y2="445.95" stroke="rgba(255,255,255,0.10)" stroke-width="0.8"/>
<line x1="899.3" y1="362.4" x2="899.3" y2="445.95" stroke="rgba(255,255,255,0.10)" stroke-width="0.8"/>
<line x1="967" y1="362.4" x2="967" y2="445.95" stroke="rgba(255,255,255,0.10)" stroke-width="0.8"/>
<line x1="1037.5" y1="362.4" x2="1037.5" y2="445.95" stroke="rgba(255,255,255,0.10)" stroke-width="0.8"/>
<line x1="776" y1="422.8" x2="1058.6" y2="422.8" stroke="#df8892" stroke-width="1.9" stroke-dasharray="7.4,3.2"/>
<polyline points="776.0,422.8 777.8,426.6 781.1,430.5 789.0,430.7 792.4,429.3 800.3,430.5 811.5,430.5 818.3,432.3 829.5,433.4 836.3,432.9 840.8,431.1 845.3,427.3 852.0,424.8 857.6,424.4 865.5,426.6 872.3,428.2 876.8,427.1 885.8,428.4 892.5,429.6 909.0,430.0 920.3,428.9 924.8,426.2 931.5,426.6 939.4,424.4 947.3,426.6 954.0,428.2 965.3,427.3 976.5,424.4 984.4,424.8 987.8,427.3 994.5,426.2 1003.5,427.8 1010.3,427.1 1014.8,428.2 1026.0,427.1 1032.8,427.8 1039.5,429.6 1048.5,431.1 1058.6,430.0" fill="none" stroke="#f4d650" stroke-width="2.1" stroke-linejoin="round" stroke-linecap="butt"/>
<rect x="762.7" y="362.4" width="309.90" height="83.55" fill="none" stroke="#d0d0d0" stroke-width="1.1"/>
<line x1="758.8000000000001" y1="441.9" x2="762.7" y2="441.9" stroke="#d0d0d0" stroke-width="0.9"/>
<text x="749.26" y="445.20" font-size="9.78" textLength="5.20" lengthAdjust="spacingAndGlyphs">0</text>
<line x1="758.8000000000001" y1="413.7" x2="762.7" y2="413.7" stroke="#d0d0d0" stroke-width="0.9"/>
<text x="737.96" y="417.00" font-size="9.78" textLength="16.53" lengthAdjust="spacingAndGlyphs">100</text>
<line x1="758.8000000000001" y1="385.5" x2="762.7" y2="385.5" stroke="#d0d0d0" stroke-width="0.9"/>
<text x="737.87" y="388.80" font-size="9.78" textLength="16.62" lengthAdjust="spacingAndGlyphs">200</text>
<line x1="829.1" y1="445.95" x2="829.1" y2="449.84999999999997" stroke="#d0d0d0" stroke-width="0.9"/>
<text x="820.83" y="460.35" font-size="9.78" textLength="17.13" lengthAdjust="spacingAndGlyphs">Aug</text>
<line x1="899.3" y1="445.95" x2="899.3" y2="449.84999999999997" stroke="#d0d0d0" stroke-width="0.9"/>
<text x="891.04" y="460.35" font-size="9.78" textLength="16.50" lengthAdjust="spacingAndGlyphs">Sep</text>
<line x1="967" y1="445.95" x2="967" y2="449.84999999999997" stroke="#d0d0d0" stroke-width="0.9"/>
<text x="959.19" y="460.35" font-size="9.78" textLength="15.24" lengthAdjust="spacingAndGlyphs">Oct</text>
<line x1="1037.5" y1="445.95" x2="1037.5" y2="449.84999999999997" stroke="#d0d0d0" stroke-width="0.9"/>
<text x="1028.60" y="460.35" font-size="9.78" textLength="17.05" lengthAdjust="spacingAndGlyphs">Nov</text>
<text class="b w" x="896.44" y="355.00" font-size="12.83" textLength="40.97" lengthAdjust="spacingAndGlyphs">BMNR</text>
</g>
</svg></body></html>
